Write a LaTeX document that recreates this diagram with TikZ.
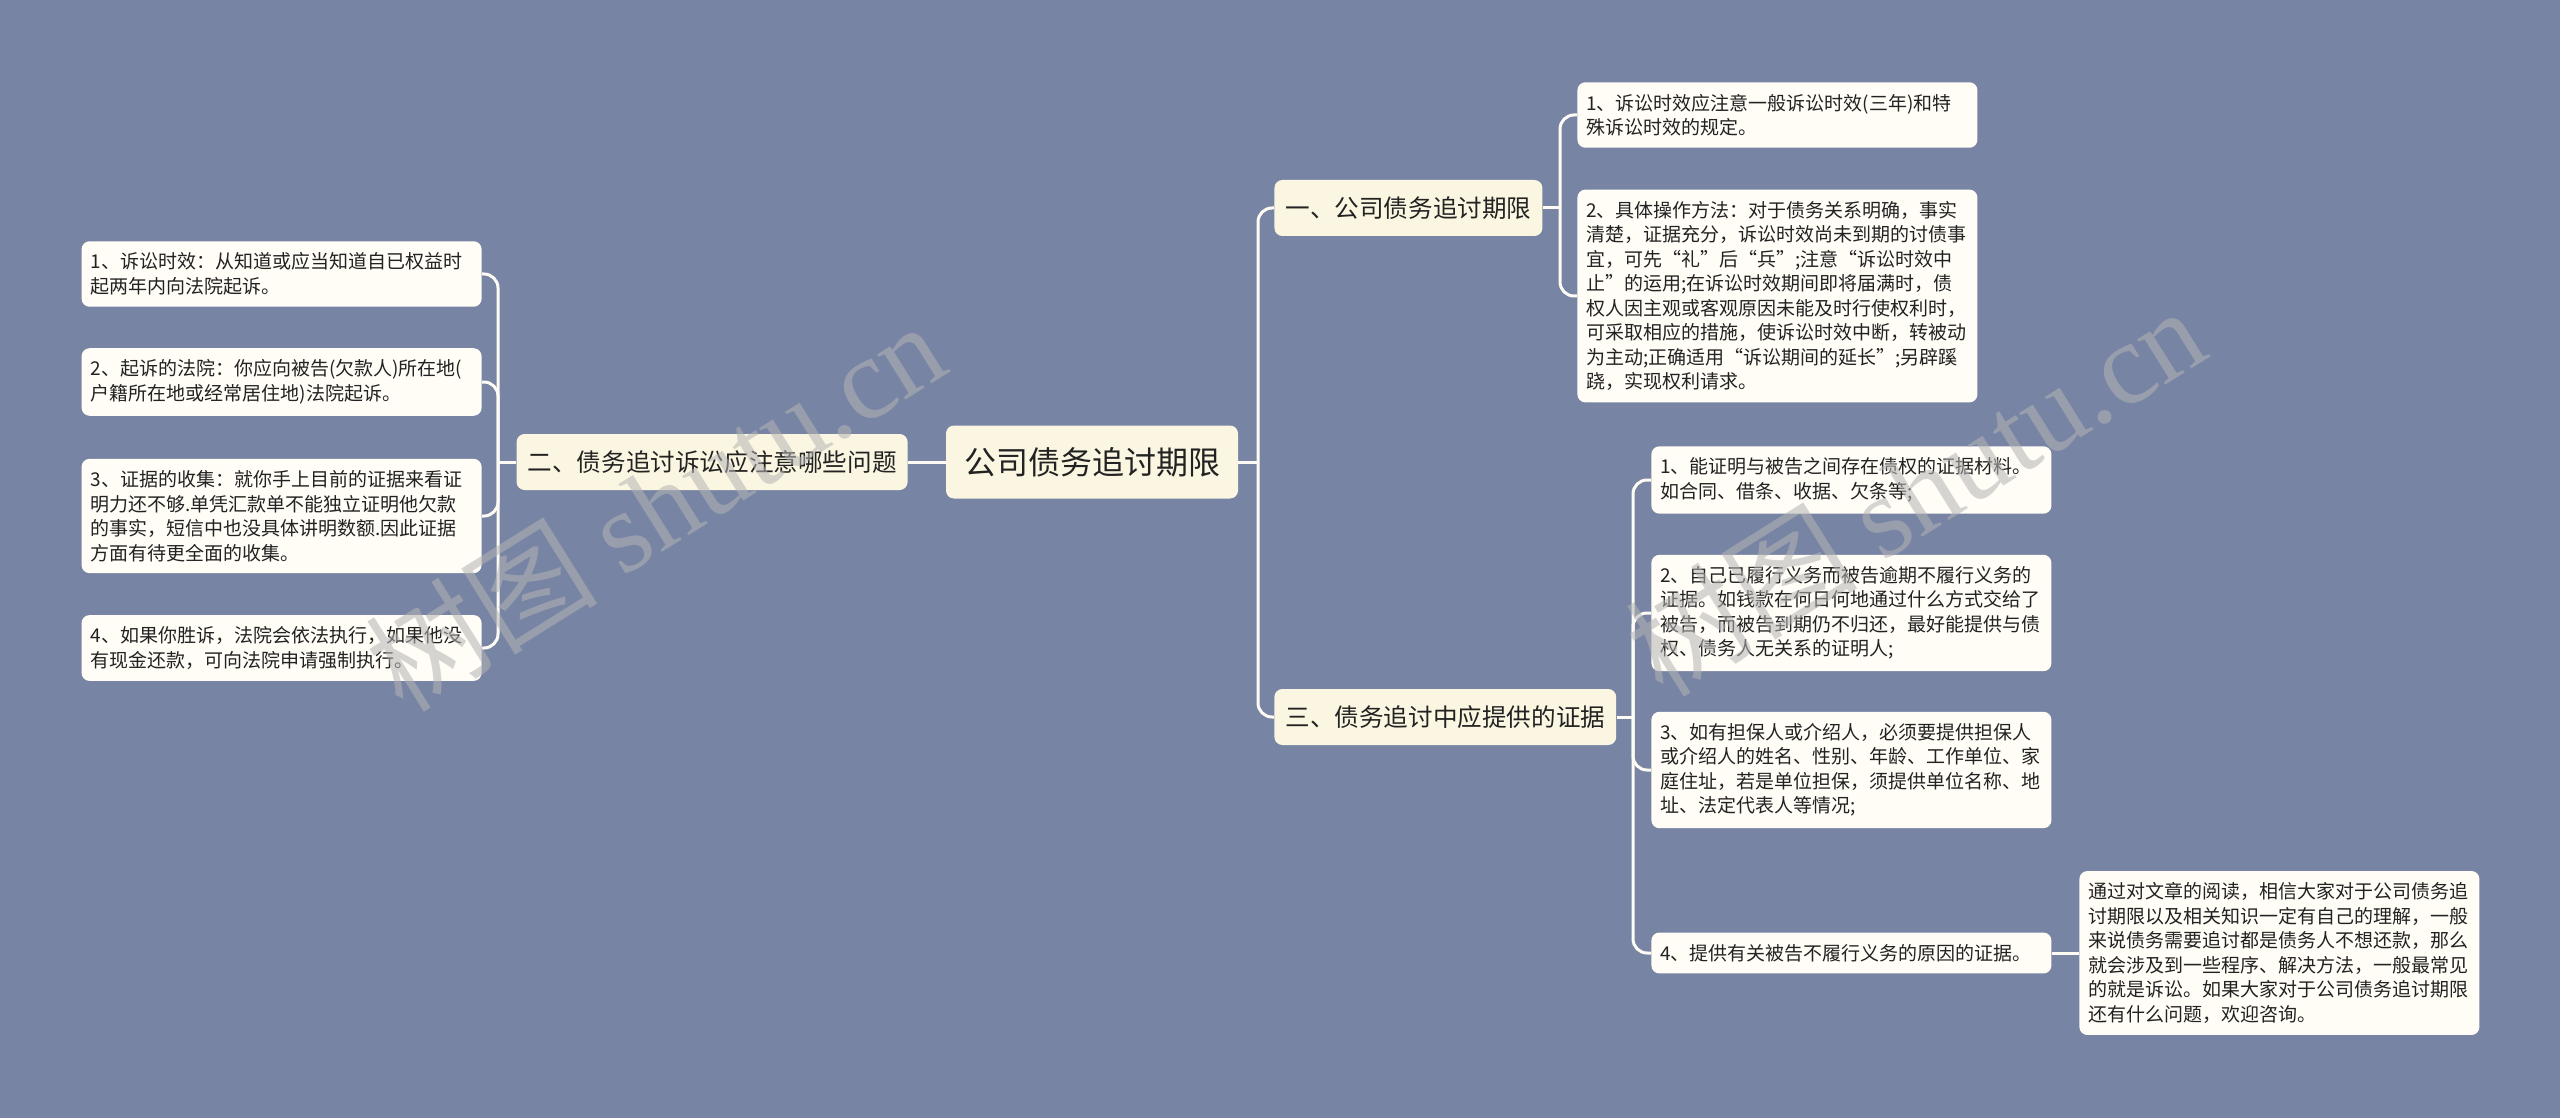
\documentclass[tikz,border=0pt]{standalone}
\usepackage{fontspec}
\setmainfont{Noto Sans CJK SC}
\newfontfamily\wmfont{Liberation Serif}
\definecolor{mapbg}{HTML}{7784A4}
\definecolor{topfill}{HTML}{FBF6E1}
\definecolor{leaffill}{HTML}{FFFDF6}
\definecolor{linkcol}{HTML}{FDFBF4}
\definecolor{inktext}{HTML}{222222}
\definecolor{markgray}{HTML}{B4B4B4}
\usetikzlibrary{positioning}

\begin{document}
\begin{tikzpicture}[x=0.5pt, y=-0.5pt,
  rootbox/.style={fill=topfill, text=inktext, rounded corners=4pt, font=\fontsize{16}{19}\selectfont, inner xsep=9pt, minimum height=36.5pt},
  topic/.style={fill=topfill, text=inktext, rounded corners=4pt, font=\fontsize{12.3}{15}\selectfont, inner xsep=5.5pt, minimum height=28pt},
  leaf/.style={fill=leaffill, text=inktext, rounded corners=4pt, font=\fontsize{9.5}{12.25}\selectfont, align=left, text width=191pt, inner xsep=4.5pt, inner ysep=5.8pt},
  link/.style={draw=linkcol, line width=1.5pt, rounded corners=7pt},
  wmark/.style={text=markgray, text opacity=0.55, font=\fontsize{58}{60}\selectfont, inner sep=0pt}
]
% background
\path[use as bounding box, fill=mapbg] (0,0) rectangle (2560,1118);

% centre and topics
\node[rootbox] (root) at (1092,462) {公司债务追讨期限};
\node[topic, anchor=east] (t2) at (908,462) {二、债务追讨诉讼应注意哪些问题};
\node[topic, anchor=west] (t1) at (1274,208) {一、公司债务追讨期限};
\node[topic, anchor=west] (t3) at (1274,717) {三、债务追讨中应提供的证据};

% left leaves
\node[leaf, anchor=east] (la) at (482,274) {1、诉讼时效：从知道或应当知道自已权益时\\起两年内向法院起诉。};
\node[leaf, anchor=east] (lb) at (482,382) {2、起诉的法院：你应向被告(欠款人)所在地(\\户籍所在地或经常居住地)法院起诉。};
\node[leaf, anchor=east] (lc) at (482,516) {3、证据的收集：就你手上目前的证据来看证\\明力还不够.单凭汇款单不能独立证明他欠款\\的事实，短信中也没具体讲明数额.因此证据\\方面有待更全面的收集。};
\node[leaf, anchor=east] (ld) at (482,648) {4、如果你胜诉，法院会依法执行，如果他没\\有现金还款，可向法院申请强制执行。};

% right leaves, topic one
\node[leaf, anchor=west] (ra) at (1577,115) {1、诉讼时效应注意一般诉讼时效(三年)和特\\殊诉讼时效的规定。};
\node[leaf, anchor=west] (rb) at (1577,296) {2、具体操作方法：对于债务关系明确，事实\\清楚，证据充分，诉讼时效尚未到期的讨债事\\宜，可先“礼”后“兵”;注意“诉讼时效中\\止”的运用;在诉讼时效期间即将届满时，债\\权人因主观或客观原因未能及时行使权利时，\\可采取相应的措施，使诉讼时效中断，转被动\\为主动;正确适用“诉讼期间的延长”;另辟蹊\\跷，实现权利请求。};

% right leaves, topic three
\node[leaf, anchor=west] (ea) at (1651,480) {1、能证明与被告之间存在债权的证据材料。\\如合同、借条、收据、欠条等;};
\node[leaf, anchor=west] (eb) at (1651,613) {2、自己已履行义务而被告逾期不履行义务的\\证据。如钱款在何日何地通过什么方式交给了\\被告，而被告到期仍不归还，最好能提供与债\\权、债务人无关系的证明人;};
\node[leaf, anchor=west] (ec) at (1651,770) {3、如有担保人或介绍人，必须要提供担保人\\或介绍人的姓名、性别、年龄、工作单位、家\\庭住址，若是单位担保，须提供单位名称、地\\址、法定代表人等情况;};
\node[leaf, anchor=west] (ed) at (1651,953) {4、提供有关被告不履行义务的原因的证据。};
\node[leaf, anchor=west] (fin) at (2079,953) {通过对文章的阅读，相信大家对于公司债务追\\讨期限以及相关知识一定有自己的理解，一般\\来说债务需要追讨都是债务人不想还款，那么\\就会涉及到一些程序、解决方法，一般最常见\\的就是诉讼。如果大家对于公司债务追讨期限\\还有什么问题，欢迎咨询。};

% connectors
\coordinate (lj) at (498,462);
\coordinate (rj) at (1258,462);
\coordinate (aj) at (1560,208);
\coordinate (ej) at (1633,717);
\draw[link] (root.west) -- (t2.east);
\draw[link] (t2.west) -- (lj);
\foreach \n in {la,lb,lc,ld}
  \draw[link] (lj) |- (\n.east);
\draw[link] (root.east) -- (rj);
\draw[link] (rj) |- (t1.west);
\draw[link] (rj) |- (t3.west);
\draw[link] (t1.east) -- (aj);
\foreach \n in {ra,rb}
  \draw[link] (aj) |- (\n.west);
\draw[link] (t3.east) -- (ej);
\foreach \n in {ea,eb,ec,ed}
  \draw[link] (ej) |- (\n.west);
\draw[link] (ed.east) -- (fin.west);

% watermarks
\node[wmark, rotate=32] (wm1) at (655,505) {树图 {\wmfont shutu.cn}};
\node[wmark, rotate=32] (wm2) at (1915,490) {树图 {\wmfont shutu.cn}};
\end{tikzpicture}
\end{document}
